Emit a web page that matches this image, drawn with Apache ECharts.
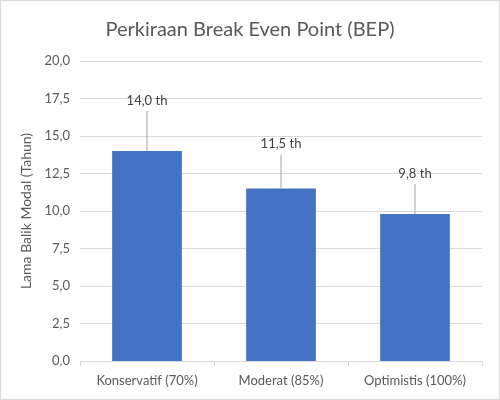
<!DOCTYPE html>
<html>
<head>
<meta charset="utf-8">
<script src="https://cdn.jsdelivr.net/npm/echarts@6/dist/echarts.min.js"></script>
<style>
  html, body { margin: 0; padding: 0; background: #fff; }
  #chart { width: 498px; height: 398px; border: 1px solid #d9d9d9; }
</style>
</head>
<body>
<div id="chart"></div>
<script>
const categories = ['Konservatif (70%)', 'Moderat (85%)', 'Optimistis (100%)'];
const bepYears = [14.0, 11.5, 9.8];
const labelLift = [-40, -34, -30];

const fmt = v => v.toFixed(1).replace('.', ',');

let chart = echarts.init(document.getElementById('chart'));
chart.setOption({
    animation: false,
    textStyle: { fontFamily: 'Lato, "Open Sans", sans-serif' },
    title: {
        text: 'Perkiraan Break Even Point (BEP)',
        left: 'center',
        top: 14,
        textStyle: { fontSize: 20, fontWeight: 'normal', color: '#595959', fontFamily: 'Lato, "Open Sans", sans-serif' }
    },
    grid: { left: 79, right: 17, top: 60, bottom: 38 },
    xAxis: {
        type: 'category',
        data: categories,
        axisLine: { lineStyle: { color: '#d9d9d9' } },
        axisTick: { show: true, length: 5, lineStyle: { color: '#d9d9d9' } },
        axisLabel: { color: '#595959', fontSize: 13, margin: 13 }
    },
    yAxis: {
        type: 'value',
        min: 0,
        max: 20,
        interval: 2.5,
        name: 'Lama Balik Modal (Tahun)',
        nameLocation: 'middle',
        nameGap: 46,
        nameTextStyle: { color: '#595959', fontSize: 14 },
        axisLabel: { color: '#595959', fontSize: 13, margin: 10, formatter: v => fmt(v) },
        axisLine: { show: false },
        axisTick: { show: false },
        splitLine: { lineStyle: { color: '#d9d9d9' } }
    },
    series: [{
        type: 'bar',
        barWidth: '52%',
        data: bepYears,
        itemStyle: { color: '#4472c4' },
        label: {
            show: true,
            position: 'top',
            distance: 4,
            color: '#404040',
            fontSize: 13,
            formatter: p => fmt(p.value) + ' th'
        },
        labelLayout: params => ({ dy: labelLift[params.dataIndex] })
    }, {
        // leader lines from bar top up to the moved label
        type: 'custom',
        data: bepYears.map((v, i) => [i, v]),
        z: 5,
        silent: true,
        renderItem: (params, api) => {
            const top = api.coord([api.value(0), api.value(1)]);
            const lift = labelLift[params.dataIndex];
            return {
                type: 'line',
                shape: { x1: top[0], y1: top[1], x2: top[0], y2: top[1] + lift },
                style: { stroke: '#a6a6a6', lineWidth: 1 }
            };
        }
    }]
});
</script>
</body>
</html>
